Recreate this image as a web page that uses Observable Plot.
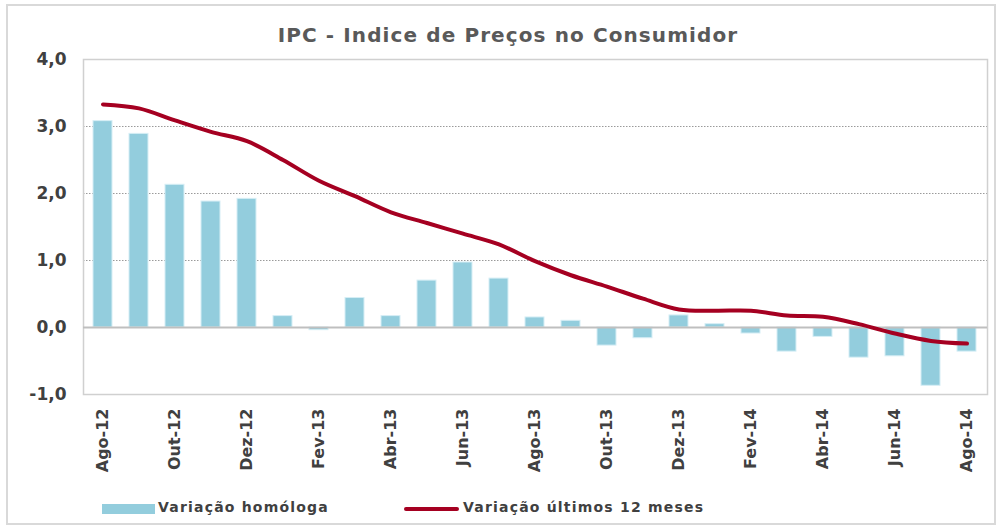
<!DOCTYPE html>
<html><head><meta charset="utf-8">
<script src="https://cdn.jsdelivr.net/npm/d3@7"></script>
<script src="https://cdn.jsdelivr.net/npm/@observablehq/plot@0.6"></script>
<style>
body{margin:0;background:#fff;font-family:"DejaVu Sans",Verdana,sans-serif;}
#wrap{position:relative;width:1003px;height:528px;overflow:hidden;}
#border{position:absolute;left:6px;top:4px;width:990px;height:521px;border:2px solid #d9d9d9;box-sizing:border-box;}
#title{position:absolute;left:0;width:1016px;top:23px;text-align:center;font-weight:bold;font-size:20px;letter-spacing:1.1px;color:#595959;}
#chart{position:absolute;left:0;top:45px;}
.leg{position:absolute;font-weight:bold;font-size:14px;letter-spacing:1.2px;color:#404040;top:499px;white-space:nowrap;}
.sw{position:absolute;}
</style></head>
<body>
<div id="wrap">
<div id="border"></div>
<div id="title">IPC - Indice de Preços no Consumidor</div>
<div id="chart"></div>
<div class="sw" style="left:102px;top:504px;width:53px;height:10px;background:#93cddd"></div>
<div class="leg" style="left:158px">Variação homóloga</div>
<div class="sw" style="left:404px;top:507px;width:55px;height:4px;background:#a50021;border-radius:2px"></div>
<div class="leg" style="left:463px">Variação últimos 12 meses</div>
</div>
<script>
const months = ["Ago-12","Set-12","Out-12","Nov-12","Dez-12","Jan-13","Fev-13","Mar-13","Abr-13","Mai-13","Jun-13","Jul-13","Ago-13","Set-13","Out-13","Nov-13","Dez-13","Jan-14","Fev-14","Mar-14","Abr-14","Mai-14","Jun-14","Jul-14","Ago-14"];
const homologa = [3.08,2.89,2.13,1.88,1.92,0.17,-0.04,0.44,0.17,0.70,0.97,0.73,0.15,0.10,-0.27,-0.16,0.18,0.05,-0.09,-0.36,-0.14,-0.45,-0.43,-0.87,-0.36];
const ultimos12 = [3.33,3.27,3.09,2.92,2.78,2.50,2.19,1.96,1.72,1.56,1.40,1.24,0.99,0.78,0.61,0.43,0.27,0.25,0.25,0.18,0.16,0.05,-0.09,-0.20,-0.24];
const yTicks = [-1,0,1,2,3,4];
const gridTicks = [1,2,3];

const data = months.map((m,i)=>({m, h: homologa[i], u: ultimos12[i]}));
const fmt = d => d.toFixed(1).replace(".", ",");
const H = 440;
const plot = Plot.plot({
  width: 1003, height: H,
  marginTop: 14, marginBottom: H - 349, marginLeft: 83, marginRight: 16,
  style: {fontFamily: "'DejaVu Sans', Verdana, sans-serif", color: "#404040", background: "transparent"},
  x: {domain: months, paddingInner: 0.47, paddingOuter: 0.235, label: null},
  y: {domain: [-1, 4], label: null},
  marks: [
    Plot.ruleY(gridTicks, {stroke: "#9a9a9a", strokeDasharray: "1.5,1.5", strokeWidth: 1}),
    Plot.frame({stroke: "#d0d0d0", strokeWidth: 1.5}),
    Plot.barY(data, {x: "m", y: "h", fill: "#93cddd", stroke: "#d6eef5", strokeWidth: 1}),
    Plot.ruleY([0], {stroke: "#bfbfbf", strokeWidth: 2}),
    Plot.line(data, {x: "m", y: "u", stroke: "#a50021", strokeWidth: 4, curve: "catmull-rom"}),
    Plot.axisY(yTicks, {tickSize: 0, tickPadding: 17, tickFormat: fmt, fontSize: 17, fontWeight: "bold", fill: "#404040", style: "letter-spacing:1.5px"}),
    Plot.axisX({tickSize: 0, tickPadding: 14, tickRotate: -90, fontSize: 16, fontWeight: "bold", fill: "#404040",
      tickFormat: (d) => months.indexOf(d) % 2 === 0 ? d : "", style: "letter-spacing:1.3px"})
  ]
});
document.getElementById("chart").appendChild(plot);
</script>
</body></html>
